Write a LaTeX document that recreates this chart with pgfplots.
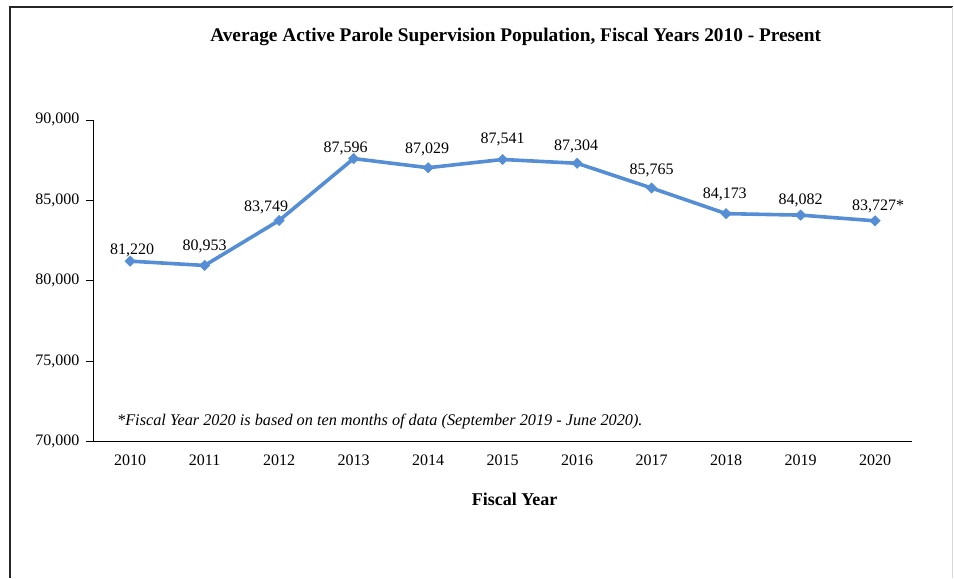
\documentclass[12pt,border=0pt]{standalone}
\usepackage{pgfplots}
\usepackage{pgfplotstable}
\pgfplotsset{compat=1.18}
\usepackage{fontspec}
\setmainfont{Liberation Serif}

\definecolor{lineblue}{RGB}{85,142,213}

% average active parole population by fiscal year (2010 = 0)
% dx, dy: label shift (pt) from the point to the label's baseline centre
\pgfplotstableread{
fy  pop    lab      dx     dy
0   81220  81,220   1.5    5.0
1   80953  80,953   0     11.0
2   83749  83,749  -9.75   6.75
3   87596  87,596  -6      4.5
4   87029  87,029  -0.75  10.3
5   87541  87,541   0     11.8
6   87304  87,304  -0.75   9.75
7   85765  85,765   0     10.5
8   84173  84,173  -1     11.25
9   84082  84,082   0      7.9
10  83727  83,727*  2.25   7.5
}\paroledata

\begin{document}
\begin{tikzpicture}
    % page = 954 x 578 px, 1 px = 0.75pt
    \path (0,0) rectangle (715.5pt,433.5pt);
    \draw[line width=1.1pt, black!85] (7.5pt,0) -- (7.5pt,428.25pt) -- (715.5pt,428.25pt);
    \draw[line width=0.6pt, black!15] (714.75pt,0) -- (714.75pt,428.25pt);

    \node[font=\fontsize{14.5}{17}\selectfont\bfseries] at (387pt,406pt)
        {Average Active Parole Supervision Population, Fiscal Years 2010 - Present};
    \node[font=\fontsize{13.5}{16}\selectfont\bfseries] at (386.25pt,58.5pt) {Fiscal Year};

    \begin{axis}[
        at={(69.75pt,102pt)}, anchor=south west,
        scale only axis,
        width=615pt, height=241.5pt,
        xmin=-0.5, xmax=10.5,
        ymin=70000, ymax=90000,
        axis x line=bottom, axis y line=left,
        axis line style={-, black, line width=0.6pt},
        ytick={70000,75000,80000,85000,90000},
        scaled y ticks=false,
        yticklabel style={/pgf/number format/fixed, /pgf/number format/1000 sep={,}, xshift=-1pt},
        /pgf/number format/assume math mode=true,
        ytick align=outside,
        ytick style={black, line width=0.6pt},
        major tick length=5pt,
        xtick={0,...,10},
        xticklabels={2010,2011,2012,2013,2014,2015,2016,2017,2018,2019,2020},
        xtick style={draw=none},
        extra x ticks={-0.5,0.5,...,10.5},
        extra x tick labels={},
        extra x tick style={tick align=outside, tick style={draw=black, line width=0.6pt}, major tick length=4.5pt},
        xticklabel style={yshift=-3pt},
        clip=false,
    ]
        \addplot[color=lineblue, line width=2.7pt, mark=square*, mark size=2.7pt,
                 mark options={solid, rotate=45, fill=lineblue, draw=lineblue, line width=0.5pt},
                 nodes near coords,
                 point meta=explicit symbolic,
                 visualization depends on={\thisrow{dx} \as \labdx},
                 visualization depends on={\thisrow{dy} \as \labdy},
                 every node near coord/.append style={font=\normalsize, text=black,
                     anchor=base, xshift={\labdx*1pt}, yshift={\labdy*1pt}},
                ]
            table[x=fy, y=pop, meta=lab] {\paroledata};
    \end{axis}

    \node[anchor=west, inner sep=0pt, font=\fontsize{12.2}{14}\selectfont\itshape] at (87.75pt,117pt)
        {*Fiscal Year 2020 is based on ten months of data (September 2019 - June 2020).};
\end{tikzpicture}
\end{document}
